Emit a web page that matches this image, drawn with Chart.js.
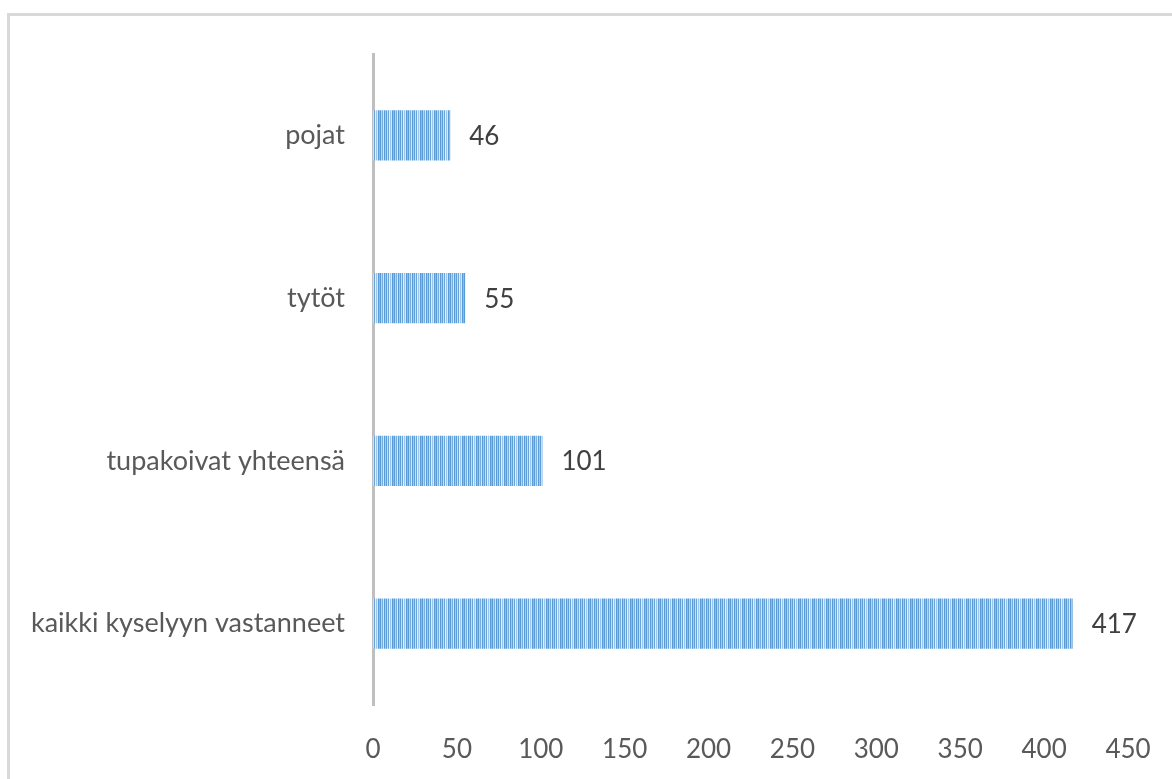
<!DOCTYPE html>
<html>
<head>
<meta charset="utf-8">
<script src="https://cdn.jsdelivr.net/npm/chart.js@4"></script>
<style>
html,body{margin:0;padding:0;background:#fff;}
#wrap{position:absolute;left:0;top:0;width:1172px;height:779px;}
#frame{position:absolute;left:7px;top:13px;width:1200px;height:800px;border-left:3px solid #d9d9d9;border-top:3px solid #d9d9d9;box-sizing:border-box;}
canvas{position:absolute;left:0;top:0;}
</style>
</head>
<body>
<div id="wrap">
<div id="frame"></div>
<canvas id="c" width="1172" height="779"></canvas>
</div>
<script>
const categories = ["pojat", "tytöt", "tupakoivat yhteensä", "kaikki kyselyyn vastanneet"];
const values = [46, 55, 101, 417];
const tickValues = [0, 50, 100, 150, 200, 250, 300, 350, 400, 450];

function makePattern() {
  const cols = ['#5b9bd5','#8ebbe6','#5b9bd5','#b8d4f0','#7aaedf','#d3e5f7','#5b9bd5','#a6c8ec','#5f9ed7','#c8dff5','#6aa3da','#e2eef9','#9cc3ea','#d9e8f7'];
  const p = document.createElement('canvas');
  p.width = cols.length; p.height = 4;
  const g = p.getContext('2d');
  cols.forEach((c,i)=>{g.fillStyle=c; g.fillRect(i,0,1,4);});
  return document.getElementById('c').getContext('2d').createPattern(p,'repeat');
}

const valueLabels = {
  id: 'valueLabels',
  afterDatasetsDraw(chart) {
    const ctx = chart.ctx;
    const meta = chart.getDatasetMeta(0);
    ctx.save();
    ctx.font = '26px Lato, "Open Sans", sans-serif';
    ctx.fillStyle = '#404040';
    ctx.textAlign = 'left';
    ctx.textBaseline = 'middle';
    meta.data.forEach((bar, i) => {
      ctx.fillText(String(values[i]), bar.x + 19, bar.y + 1);
    });
    ctx.restore();
  }
};

new Chart(document.getElementById('c'), {
  type: 'bar',
  data: {
    labels: categories,
    datasets: [{
      data: values,
      backgroundColor: makePattern(),
      borderWidth: 0,
      barPercentage: 0.31,
      categoryPercentage: 1.0
    }]
  },
  options: {
    indexAxis: 'y',
    responsive: false,
    animation: false,
    layout: { padding: { top: 54, right: 44, left: 0, bottom: 0 } },
    plugins: { legend: { display: false }, tooltip: { enabled: false } },
    scales: {
      x: {
        min: 0, max: 450,
        afterBuildTicks(s) { s.ticks = tickValues.map(v => ({ value: v })); },
        afterFit(s) { s.height = 74; s.paddingLeft = 0; s.paddingRight = 0; },
        grid: { display: false, drawTicks: false },
        border: { display: false },
        ticks: { padding: 29, color: '#595959', font: { family: 'Lato, "Open Sans", sans-serif', size: 26 } }
      },
      y: {
        afterFit(s) { s.width = 373; s.paddingTop = 0; s.paddingBottom = 0; },
        grid: { display: false, drawTicks: false },
        border: { display: true, color: '#bfbfbf', width: 3 },
        ticks: { padding: 28, color: '#595959', font: { family: 'Lato, "Open Sans", sans-serif', size: 27 } }
      }
    }
  },
  plugins: [valueLabels]
});
</script>
</body>
</html>
